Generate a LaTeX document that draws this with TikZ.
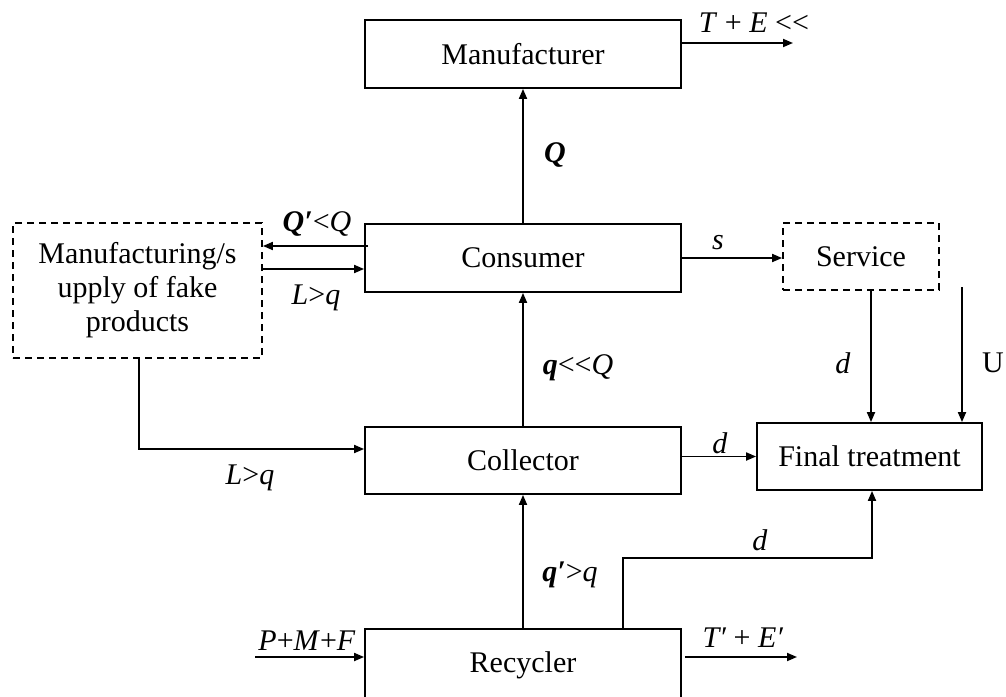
\documentclass[tikz,border=0pt]{standalone}
\usepackage{fontspec}
\setmainfont{Liberation Serif}
\usetikzlibrary{arrows.meta,calc}
\tikzset{
  box/.style={draw, line width=1.8pt, minimum width=316pt, minimum height=68pt, inner sep=0pt, font=\fontsize{30}{34}\selectfont},
  dbox/.style={draw, line width=1.8pt, dash pattern=on 7pt off 5pt, inner sep=0pt, align=center, font=\fontsize{30}{34}\selectfont},
  arr/.style={line width=1.8pt, -{Triangle[length=10pt,width=8pt]}},
  ln/.style={line width=1.8pt},
  lab/.style={inner sep=0pt, font=\fontsize{30}{34}\selectfont}
}
\begin{document}
\begin{tikzpicture}[x=1pt,y=-1pt]
\useasboundingbox (0,0) rectangle (1006,696);
% boxes
\node[box] (manu) at (523,54) {Manufacturer};
\node[box] (cons) at (523,258) {Consumer};
\node[box, minimum height=67pt] (coll) at (523,460.5) {Collector};
\node[box, minimum height=72pt, text depth=0pt] (recy) at (523,665) {};
\node[lab] (recyt) at (523,665) {Recycler};
\node[dbox, minimum width=156pt, minimum height=67pt] (serv) at (861,256.5) {Service};
\node[box, minimum width=225pt, minimum height=67pt] (fin) at (869.5,456.5) {Final treatment};
\node[dbox, minimum width=249pt, minimum height=135pt] (fake) at (137.5,290.5) {Manufacturing/s\\upply of fake\\products};
% coordinates
\coordinate (te) at (793,43);
\coordinate (qa) at (368,246);
\coordinate (la) at (262,269);
\coordinate (dx) at (871,0);
\coordinate (u0) at (962,287);
\coordinate (fx) at (139,449);
\coordinate (dk) at (623,558);
\coordinate (dk2) at (872,558);
\coordinate (pin) at (255,657);
\coordinate (tout) at (797,657);
% connectors
\draw[arr] (cons.north) -- (manu.south);
\draw[arr] (manu.east |- te) -- (te);
\draw[arr] (qa) -- (fake.east |- qa);
\draw[arr] (fake.east |- la) -- (cons.west |- la);
\draw[arr] (cons.east) -- (cons.east -| serv.west);
\draw[arr] (serv.south -| dx) -- (fin.north -| dx);
\draw[arr] (u0) -- (fin.north -| u0);
\draw[arr] (coll.north) -- (cons.south);
\draw[arr] (fin.west -| coll.east) -- (fin.west);
\draw[arr] (fake.south -| fx) -- (fx) -- (coll.west |- fx);
\draw[arr] (recy.north) -- (coll.south);
\draw[arr] (recy.north -| dk) -- (dk) -- (dk2) -- (fin.south -| dk2);
\draw[arr] (pin) -- (recy.west |- pin);
\draw[arr, shorten <=3pt] (recy.east |- tout) -- (tout);
% labels
\node[lab] (l1) at (754,23) {\textit{T} + \textit{E} <{}<};
\node[lab] (l2) at (555,155) {\textbf{\textit{Q}}};
\node[lab, anchor=base] (l3) at (317,231) {\textbf{\textit{Q′}}<\textit{Q}};
\node[lab] (l4) at (316,298) {\textit{L}>\textit{q}};
\node[lab] (l5) at (718,243) {\textit{s}};
\node[lab] (l6) at (578,368) {\textbf{\textit{q}}<{}<\textit{Q}};
\node[lab] (l7) at (843,363) {\textit{d}};
\node[lab] (l8) at (993,363) {U};
\node[lab] (l9) at (720,443) {\textit{d}};
\node[lab] (l10) at (250,478) {\textit{L}>\textit{q}};
\node[lab] (l11) at (760,540) {\textit{d}};
\node[lab] (l12) at (570,575) {\textbf{\textit{q′}}>\textit{q}};
\node[lab] (l13) at (307,641) {\textit{P}+\textit{M}+\textit{F}};
\node[lab] (l14) at (743,638) {\textit{T′} + \textit{E′}};
\end{tikzpicture}
\end{document}
